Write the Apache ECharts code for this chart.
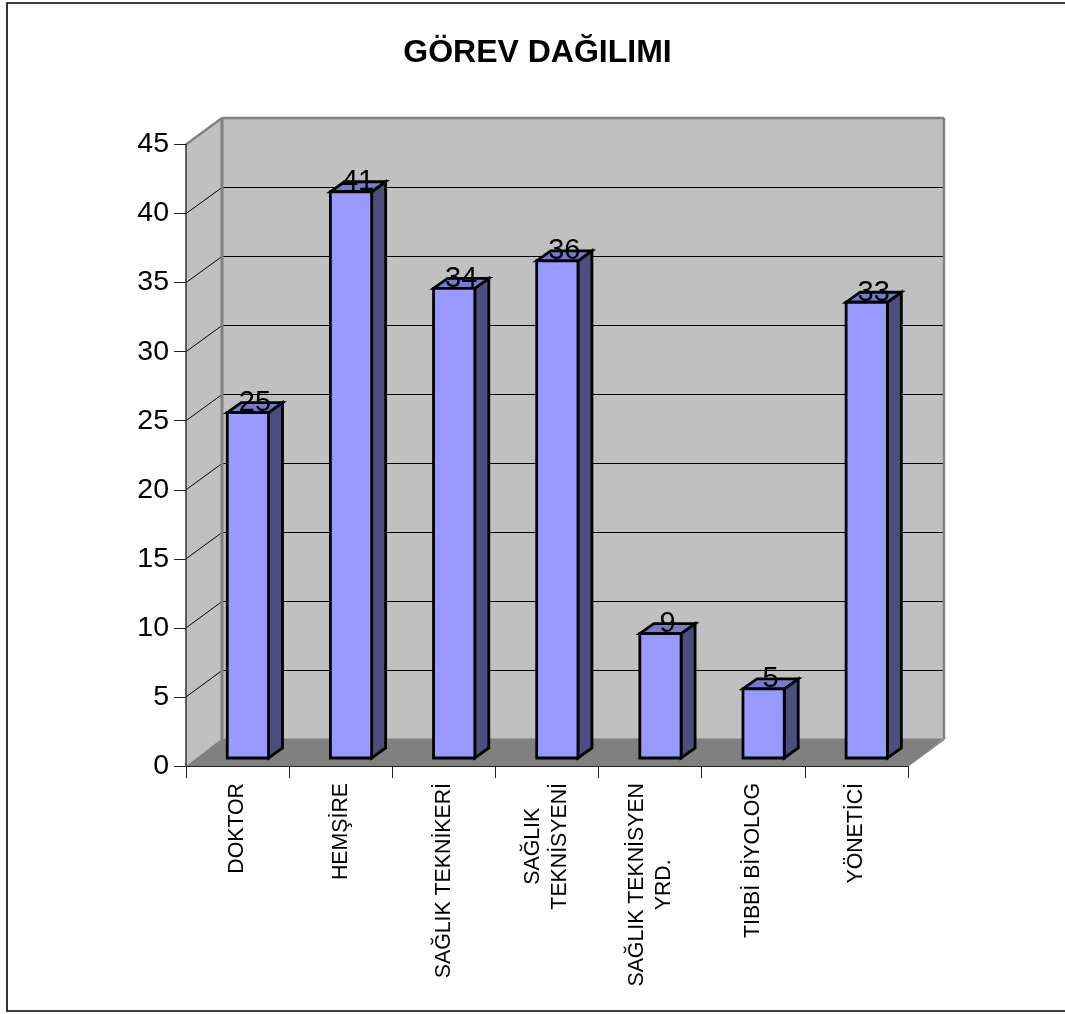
<!DOCTYPE html>
<html>
<head>
<meta charset="utf-8">
<title>GÖREV DAĞILIMI</title>
<script src="https://cdn.jsdelivr.net/npm/echarts@6/dist/echarts.min.js"></script>
<style>html,body{margin:0;padding:0;background:#fff}#chart{width:1065px;height:1014px}</style>
</head>
<body>
<div id="chart"></div>
<script>
const chartTitle = 'GÖREV DAĞILIMI';
const categories = ['DOKTOR', 'HEMŞİRE', 'SAĞLIK TEKNİKERİ', 'SAĞLIK\nTEKNİSYENİ', 'SAĞLIK TEKNİSYEN\nYRD.', 'TIBBİ BİYOLOG', 'YÖNETİCİ'];
const counts = [25, 41, 34, 36, 9, 5, 33];
const innerTicks = [5, 10, 15, 20, 25, 30, 35, 40];
const axisMax = 45;

// Pseudo-3D projection used by the walls and the columns.
const WALL_DX = 36, WALL_DY = 26.5;
const BAR_DX = 14, BAR_DY = 10, BAR_LIFT = 8;
const BAR_FRONT = '#9999FF', BAR_SIDE = '#4D4D80', BAR_TOP = '#7A7ACC';
const FONT = '"Liberation Sans", Arial, sans-serif';

function poly(points, fill, stroke, lineWidth) {
  return { type: 'polygon', shape: { points }, style: { fill: fill, stroke: stroke || null, lineWidth: lineWidth || 0, lineJoin: 'miter' } };
}
function seg(a, b, color, width) {
  return { type: 'line', shape: { x1: a[0], y1: a[1], x2: b[0], y2: b[1] }, style: { stroke: color, lineWidth: width } };
}

// Side wall, back wall, floor and the gridlines running across them.
function renderRoom(params, api) {
  const band = api.size([1, 0])[0];
  const xL = api.coord([0, 0])[0] - band / 2;
  const xR = xL + band * categories.length;
  const y0 = api.coord([0, 0])[1];
  const yT = api.coord([0, axisMax])[1];
  const back = (p) => [p[0] + WALL_DX, p[1] - WALL_DY];
  const floorBackY = y0 - WALL_DY - 1;
  const edge = '#808080';
  const children = [
    poly([[xL, y0], [xL, yT], back([xL, yT]), back([xL, y0])], '#C0C0C0'),
    poly([back([xL, yT]), back([xR, yT]), back([xR, y0]), back([xL, y0])], '#C0C0C0'),
    poly([[xL, y0], [xR, y0], [xR + WALL_DX, floorBackY], [xL + WALL_DX, floorBackY]], '#808080')
  ];
  innerTicks.forEach((t) => {
    const y = api.coord([0, t])[1];
    const yBack = Math.round(y - WALL_DY) + 0.5;
    children.push(seg([xL, y], [xL + WALL_DX, yBack], '#000', 1));
    children.push(seg([xL + WALL_DX, yBack], [xR + WALL_DX, yBack], '#000', 1));
  });
  children.push(seg(back([xL, yT]), back([xL, y0]), edge, 3));
  children.push(seg([xL, yT], back([xL, yT]), edge, 2.4));
  children.push(seg(back([xL, yT]), back([xR, yT]), edge, 2.4));
  children.push(seg(back([xR, yT]), back([xR, y0]), edge, 2.4));
  children.push(seg(back([xR, y0]), [xR, y0], edge, 1.5));
  return { type: 'group', children };
}

// One column: front, right side and top faces, then its value above the front face.
function renderColumn(params, api) {
  const idx = api.value(0), v = api.value(1);
  const band = api.size([1, 0])[0];
  const bandLeft = api.coord([idx, 0])[0] - band / 2;
  const yBase = api.coord([idx, 0])[1] - BAR_LIFT;
  const yTop = api.coord([idx, v])[1] - BAR_LIFT;
  const x0 = bandLeft + band * 0.4;
  const x1 = x0 + band * 0.4;
  const ln = 2.8;
  return {
    type: 'group',
    children: [
      poly([[x1, yBase], [x1, yTop], [x1 + BAR_DX, yTop - BAR_DY], [x1 + BAR_DX, yBase - BAR_DY]], BAR_SIDE, '#000', ln),
      poly([[x0, yTop], [x1, yTop], [x1 + BAR_DX, yTop - BAR_DY], [x0 + BAR_DX, yTop - BAR_DY]], BAR_TOP, '#000', ln),
      poly([[x0, yBase], [x1, yBase], [x1, yTop], [x0, yTop]], BAR_FRONT, '#000', ln),
      {
        type: 'text',
        z2: 10,
        style: {
          x: (x0 + x1 + BAR_DX) / 2,
          y: yTop + 5,
          text: String(v),
          fill: '#000',
          font: '29px ' + FONT,
          align: 'center',
          verticalAlign: 'bottom'
        }
      }
    ]
  };
}

const chart = echarts.init(document.getElementById('chart'), null, { renderer: 'canvas' });
chart.setOption({
  animation: false,
  backgroundColor: '#fff',
  title: {
    text: chartTitle,
    left: 537.5,
    top: 37,
    padding: 0,
    textAlign: 'center',
    textStyle: { fontFamily: FONT, fontWeight: 'bold', fontSize: 32, color: '#000' }
  },
  graphic: [{
    type: 'rect',
    silent: true,
    shape: { x: 7, y: 3, width: 1070, height: 1008 },
    style: { fill: null, stroke: '#000', lineWidth: 1.6 }
  }],
  grid: { left: 186, right: 157, top: 144.5, bottom: 248 },
  xAxis: {
    type: 'category',
    data: categories,
    z: 3,
    axisLine: { lineStyle: { color: '#222', width: 1.2 } },
    axisTick: { show: true, length: 12, alignWithLabel: false, lineStyle: { color: '#222', width: 1 } },
    axisLabel: {
      interval: 0,
      rotate: 90,
      margin: 17,
      hideOverlap: false,
      fontFamily: FONT,
      fontSize: 21.3,
      color: '#000',
      formatter: (s) => s.split('\n').map((l) => '{c|' + l + '}').join('\n'),
      rich: { c: { align: 'center', fontFamily: FONT, fontSize: 21.3, color: '#000', lineHeight: 27 } }
    }
  },
  yAxis: {
    type: 'value',
    min: 0,
    max: axisMax,
    interval: 5,
    z: 3,
    splitLine: { show: false },
    axisLine: { show: true, lineStyle: { color: '#333', width: 1.5 } },
    axisTick: { show: true, length: 12, lineStyle: { color: '#222', width: 1 } },
    axisLabel: { margin: 17, padding: [4, 0, 0, 0], fontFamily: FONT, fontSize: 28.5, color: '#000' }
  },
  series: [
    { type: 'custom', name: 'room', z: 1, silent: true, renderItem: renderRoom, data: [[0, 0]], encode: { x: 0, y: 1 } },
    { type: 'custom', name: 'counts', z: 5, renderItem: renderColumn, data: counts.map((v, i) => [i, v]), encode: { x: 0, y: 1 } }
  ]
});
</script>
</body>
</html>
